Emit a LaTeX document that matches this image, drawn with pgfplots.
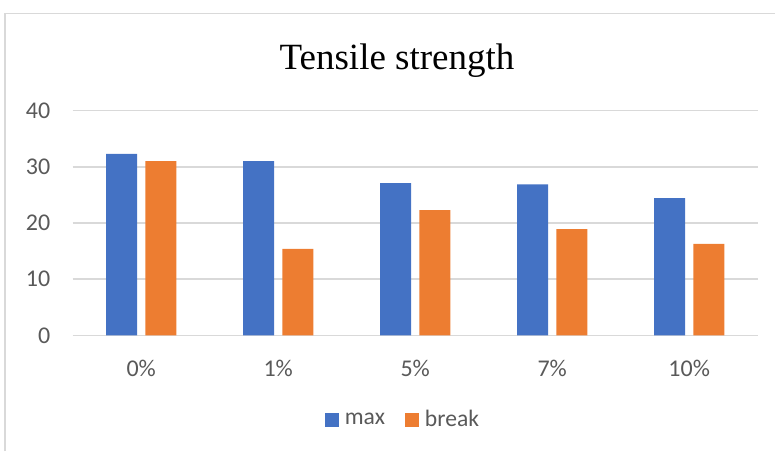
\documentclass[border=0pt]{standalone}
\usepackage{fontspec}
\setmainfont{Carlito}
\newfontfamily\titlefont{Liberation Serif}
\usepackage{pgfplots}
\pgfplotsset{compat=1.18}
\definecolor{xlblue}{HTML}{4472C4}
\definecolor{xlorange}{HTML}{ED7D31}
\definecolor{xlgrid}{HTML}{D9D9D9}
\definecolor{xltext}{HTML}{595959}

\begin{document}
\begin{tikzpicture}
% picture frame: 775 x 451 px, 1px = 0.5pt
\path[use as bounding box] (0pt,0pt) rectangle (387.5pt,-225.5pt);
\draw[xlgrid, line width=0.75pt] (2.6pt,-225.5pt) -- (2.6pt,-6.8pt) -- (387.5pt,-6.8pt);
\node[font=\titlefont\fontsize{18.5}{22}\selectfont, anchor=base, inner sep=0pt] at (198.5pt,-34.5pt) {Tensile strength};
\begin{axis}[
    at={(36.35pt,-167.65pt)}, anchor=south west,
    scale only axis,
    width=342.5pt, height=112.3pt,
    ybar=4.2pt, bar width=15.5pt,
    xmin=-0.5, xmax=4.5,
    ymin=0, ymax=40,
    xtick=data,
    xticklabels={0\%,1\%,5\%,7\%,10\%},
    ytick={0,10,20,30,40},
    axis line style={draw=none},
    major tick length=0pt,
    ymajorgrids=true,
    grid style={xlgrid, line width=0.75pt},
    tick label style={font=\fontsize{12}{14}\selectfont, text=xltext},
    xticklabel style={anchor=center, inner sep=0pt, yshift=-16.5pt},
    yticklabel style={anchor=east, inner sep=0pt, xshift=-11pt},
    /pgf/number format/assume math mode=true,
    legend columns=2,
    legend image code/.code={\draw[#1,/tikz/.cd,draw=none] (0pt,-3.5pt) rectangle (7pt,3.5pt);},
    legend style={at={(0.485,-0.377)}, anchor=center, draw=none, fill=none,
        font=\fontsize{11.8}{14}\selectfont, text=xltext,
        nodes={inner xsep=3pt},
        /tikz/every even column/.append style={column sep=7pt}},
    ]
    \addplot[fill=xlblue, draw=none] coordinates {(0,32.3) (1,31.0) (2,27.1) (3,26.9) (4,24.45)};
    \addplot[fill=xlorange, draw=none] coordinates {(0,31.0) (1,15.4) (2,22.3) (3,18.9) (4,16.3)};
    \legend{max,break}
\end{axis}
\end{tikzpicture}
\end{document}
